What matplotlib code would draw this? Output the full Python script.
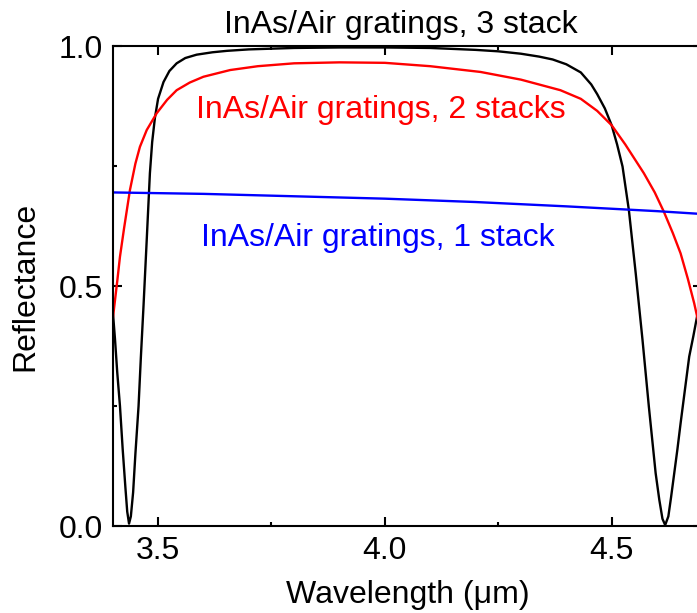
import numpy as np
import matplotlib
matplotlib.use('Agg')
from matplotlib import pyplot as plt
from matplotlib.ticker import MultipleLocator, FormatStrFormatter

plt.rcParams['font.family'] = ['Liberation Sans', 'DejaVu Sans']
plt.rcParams['font.size'] = 23

# 3 stack grating reflectance
wl_3 = [3.400, 3.405, 3.410, 3.416, 3.422, 3.428, 3.432, 3.436, 3.440, 3.445,
        3.450, 3.457, 3.462, 3.468, 3.475, 3.482, 3.487, 3.493, 3.500, 3.512,
        3.525, 3.541, 3.560, 3.585, 3.620, 3.652, 3.700, 3.800, 3.900, 4.000,
        4.100, 4.200, 4.250, 4.300, 4.340, 4.370, 4.400, 4.432, 4.455, 4.468,
        4.485, 4.500, 4.512, 4.524, 4.538, 4.553, 4.568, 4.582, 4.597, 4.605,
        4.612, 4.618, 4.625, 4.631, 4.638, 4.645, 4.652, 4.661, 4.671, 4.680,
        4.688]
r_3 = [0.45, 0.39, 0.32, 0.25, 0.16, 0.08, 0.03, 0.005, 0.02, 0.07,
       0.15, 0.25, 0.35, 0.46, 0.596, 0.735, 0.80, 0.85, 0.89, 0.925,
       0.948, 0.964, 0.975, 0.982, 0.987, 0.990, 0.993, 0.996, 0.997, 0.997,
       0.996, 0.992, 0.989, 0.984, 0.978, 0.972, 0.962, 0.945, 0.92, 0.90,
       0.87, 0.835, 0.795, 0.749, 0.658, 0.527, 0.388, 0.249, 0.11, 0.055,
       0.015, 0.002, 0.02, 0.06, 0.11, 0.16, 0.214, 0.28, 0.353, 0.395,
       0.435]

# 2 stacks
wl_2 = [3.400, 3.405, 3.410, 3.416, 3.425, 3.438, 3.450, 3.460, 3.475, 3.497,
        3.520, 3.541, 3.570, 3.600, 3.659, 3.720, 3.800, 3.900, 4.000, 4.100,
        4.211, 4.300, 4.387, 4.432, 4.468, 4.500, 4.530, 4.571, 4.595, 4.615,
        4.635, 4.652, 4.668, 4.682, 4.690]
r_2 = [0.43, 0.47, 0.51, 0.561, 0.62, 0.70, 0.755, 0.79, 0.825, 0.86,
       0.888, 0.908, 0.924, 0.936, 0.950, 0.958, 0.964, 0.966, 0.965, 0.958,
       0.946, 0.930, 0.908, 0.89, 0.865, 0.835, 0.795, 0.735, 0.695, 0.655,
       0.61, 0.568, 0.515, 0.464, 0.43]

# 1 stack
wl_1 = [3.4, 3.6, 3.8, 4.0, 4.2, 4.4, 4.6, 4.7]
r_1 = [0.695, 0.692, 0.687, 0.682, 0.675, 0.666, 0.656, 0.650]

fig = plt.figure(figsize=(6.97, 6.13), dpi=100)
ax = fig.add_axes([0.1617, 0.1419, 0.846, 0.783])

ax.plot(wl_3, r_3, color='black', lw=1.7)
ax.plot(wl_2, r_2, color='red', lw=1.7)
ax.plot(wl_1, r_1, color='blue', lw=1.7)

ax.text(3.99, 0.866, 'InAs/Air gratings, 2 stacks', color='red', ha='center', va='center')
ax.text(3.985, 0.600, 'InAs/Air gratings, 1 stack', color='blue', ha='center', va='center')
fig.text(401 / 697, 1 - 33 / 613, 'InAs/Air gratings, 3 stack', ha='center', va='baseline')

ax.set_xlim(3.4, 4.7)
ax.set_ylim(0, 1.0)
ax.xaxis.set_major_locator(MultipleLocator(0.5))
ax.xaxis.set_minor_locator(MultipleLocator(0.25))
ax.yaxis.set_major_locator(MultipleLocator(0.5))
ax.yaxis.set_minor_locator(MultipleLocator(0.25))
ax.xaxis.set_major_formatter(FormatStrFormatter('%.1f'))
ax.yaxis.set_major_formatter(FormatStrFormatter('%.1f'))
ax.tick_params(which='both', direction='in', top=True, right=True, width=1.5)
ax.tick_params(which='major', length=6.5, pad=7)
ax.tick_params(which='minor', length=3)
for s in ax.spines.values():
    s.set_linewidth(1.5)

ax.set_xlabel('Wavelength (\u03bcm)', labelpad=10)
ax.set_ylabel('Reflectance', labelpad=13)

fig.savefig('out.png', dpi=100)
